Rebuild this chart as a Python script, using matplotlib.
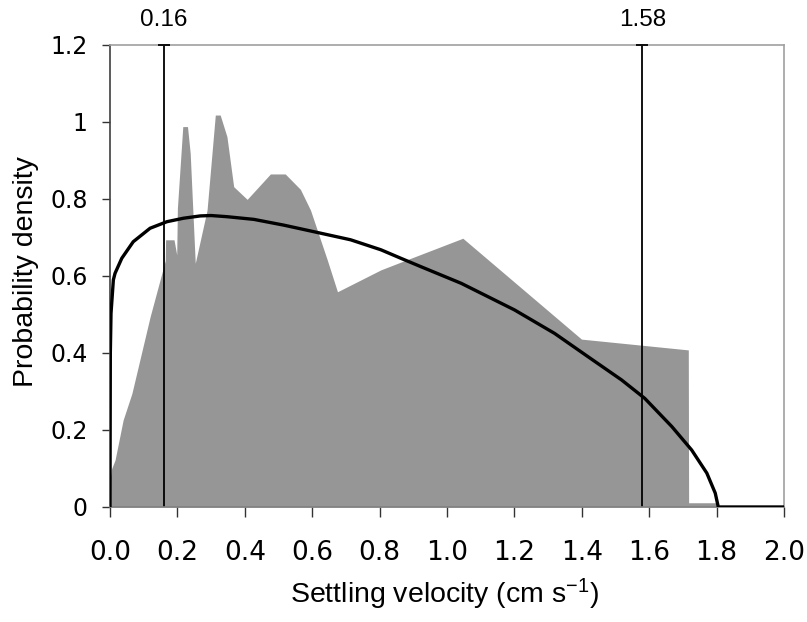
import matplotlib
matplotlib.use("Agg")
import matplotlib.pyplot as plt
from matplotlib.ticker import FixedLocator, FixedFormatter

# Observed (gray) distribution outline
obs_x = [0.0, 0.0, 0.005, 0.015, 0.039, 0.065, 0.119, 0.164, 0.165, 0.19, 0.198, 0.200,
         0.216, 0.230, 0.238, 0.253, 0.288, 0.3125, 0.327, 0.347, 0.367, 0.407, 0.476,
         0.52, 0.565, 0.595, 0.645, 0.675, 0.804, 0.863, 1.047, 1.399, 1.716, 1.717,
         1.80, 1.801]
obs_y = [0.0, 0.07, 0.10, 0.122, 0.226, 0.295, 0.494, 0.64, 0.694, 0.694, 0.655, 0.776,
         0.988, 0.988, 0.919, 0.633, 0.771, 1.018, 1.018, 0.962, 0.832, 0.799, 0.865,
         0.865, 0.825, 0.771, 0.641, 0.559, 0.616, 0.636, 0.698, 0.436, 0.408, 0.011,
         0.011, 0.0]

# Fitted curve
fit_x = [0.0, 0.001, 0.003, 0.01, 0.015, 0.035, 0.069, 0.119, 0.169, 0.218, 0.268, 0.30,
         0.347, 0.427, 0.516, 0.605, 0.714, 0.804, 0.863, 0.923, 1.042, 1.2, 1.319, 1.419,
         1.518, 1.587, 1.667, 1.726, 1.771, 1.796, 1.805, 2.0]
fit_y = [0.0, 0.40, 0.503, 0.590, 0.607, 0.646, 0.689, 0.724, 0.741, 0.750, 0.756, 0.757,
         0.754, 0.747, 0.732, 0.715, 0.694, 0.668, 0.646, 0.624, 0.581, 0.512, 0.451, 0.390,
         0.330, 0.282, 0.209, 0.148, 0.088, 0.036, 0.0, 0.0]

vlines = [0.16, 1.58]
vline_labels = ["0.16", "1.58"]

xticks = [0.0, 0.2, 0.4, 0.6, 0.8, 1.0, 1.2, 1.4, 1.6, 1.8, 2.0]
xticklabels = ["0.0", "0.2", "0.4", "0.6", "0.8", "1.0", "1.2", "1.4", "1.6", "1.8", "2.0"]
yticks = [0.0, 0.2, 0.4, 0.6, 0.8, 1.0, 1.2]
yticklabels = ["0", "0.2", "0.4", "0.6", "0.8", "1", "1.2"]

plt.rcParams['font.family'] = ['Liberation Sans', 'DejaVu Sans']
plt.rcParams['mathtext.fontset'] = 'custom'
plt.rcParams['mathtext.rm'] = 'Liberation Sans'
plt.rcParams['mathtext.it'] = 'Liberation Sans'

fig = plt.figure(figsize=(8.07, 6.22), dpi=100)
ax = fig.add_axes([0.1363, 0.1849, 0.8352, 0.7428])

ax.fill_between(obs_x, obs_y, 0, color='#969696', linewidth=0, zorder=1)
ax.plot(fit_x, fit_y, color='black', linewidth=2.4, zorder=3)
ylim_top = 1.2
for v, lab in zip(vlines, vline_labels):
    ax.axvline(v, color='black', linewidth=1.3, zorder=2)
    ax.plot([v], [ylim_top], marker='_', markersize=9, markeredgewidth=1.3,
            color='black', clip_on=False, zorder=4)
    ax.text(v, 1.265, lab, ha='center', va='center', fontsize=17.5)

ax.set_xlim(0, 2.0)
ax.set_ylim(0, ylim_top)
ax.xaxis.set_major_locator(FixedLocator(xticks))
ax.xaxis.set_major_formatter(FixedFormatter(xticklabels))
ax.yaxis.set_major_locator(FixedLocator(yticks))
ax.yaxis.set_major_formatter(FixedFormatter(yticklabels))

ax.tick_params(axis='x', direction='out', length=7, width=1, pad=17, labelsize=19,
               color='#333333')
ax.tick_params(axis='y', direction='out', length=6, width=1, pad=10, labelsize=17,
               color='#333333')
for lab in ax.get_xticklabels() + ax.get_yticklabels():
    lab.set_family('DejaVu Sans')

for s in ['top', 'right']:
    ax.spines[s].set_color('#a0a0a0')
    ax.spines[s].set_linewidth(1.2)
ax.spines['left'].set_color('#404040')
ax.spines['left'].set_linewidth(1.2)
ax.spines['bottom'].set_color('#808080')
ax.spines['bottom'].set_linewidth(1.2)

ax.set_ylabel('Probability density', fontsize=20.5)
ax.set_xlabel('Settling velocity (cm s$^{-1}$)', fontsize=20.5)
ax.yaxis.set_label_coords(-0.106, 0.509)
ax.xaxis.set_label_coords(0.497, -0.152)

fig.savefig('out.png', dpi=100)
